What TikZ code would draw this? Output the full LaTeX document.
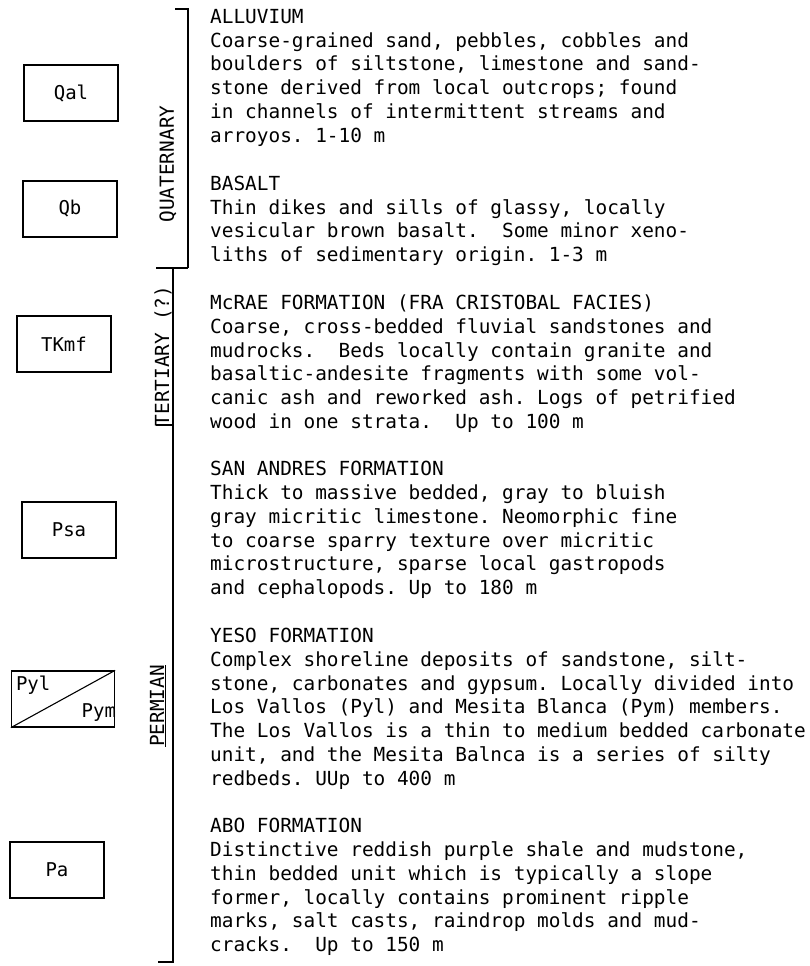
\documentclass[tikz,border=0pt]{standalone}
\usepackage{fontspec}
\usepackage{tikz}
\newfontfamily\typer{DejaVu Sans Mono}

\tikzset{
  unitbox/.style={draw, line width=1.3pt, minimum width=94pt, minimum height=56pt,
    inner sep=0pt, font=\typer\fontsize{19}{23}\selectfont},
  legtext/.style={anchor=north west, align=left, inner sep=0pt,
    font=\typer\fontsize{19.4}{23.8}\selectfont},
  agelabel/.style={rotate=90, inner sep=0pt, font=\typer\fontsize{19.4}{23.8}\selectfont},
  agebar/.style={line width=1.4pt},
}

\begin{document}
\frenchspacing
\begin{tikzpicture}[x=1pt,y=-1pt]
\useasboundingbox (0,0) rectangle (809,966);

%% map unit boxes %%%%%%%%%%%%%%%%%%%%%%%%%%%%%%%%%%%%
\node[unitbox] (qal)  at (71,93)  {Qal};
\node[unitbox] (qb)   at (70,209) {Qb};
\node[unitbox] (tkmf) at (64,344) {TKmf};
\node[unitbox] (psa)  at (69,530) {Psa};
\node[unitbox, minimum width=103pt] (pyl) at (63,699) {};
\draw[line width=1.1pt] (pyl.south west) -- (pyl.north east);
\node[anchor=north west, inner sep=0pt, font=\typer\fontsize{19}{23}\selectfont]
  (pyllab) at ([shift={(5,5)}]pyl.north west) {Pyl};
\node[anchor=south east, inner sep=0pt, font=\typer\fontsize{19}{23}\selectfont]
  (pymlab) at ([shift={(1,-6)}]pyl.south east) {Pym};
\node[unitbox] (pa)   at (57,870) {Pa};

%% the age bar %%%%%%%%%%%%%%%%%%%%%%%%%%%%%%%%%%%%%%%%
\coordinate (qhook) at (175,9);
\coordinate (qtop)  at (188,9);
\coordinate (qbot)  at (188,268);
\coordinate (tleft) at (156,268);
\coordinate (ttop)  at (173,268);
\coordinate (pleft) at (156,425);
\coordinate (pmid)  at (173,425);
\coordinate (pbot)  at (173,962);
\coordinate (pend)  at (158,962);
\draw[agebar] (qhook) -- (qtop) -- (qbot);
\draw[agebar] (tleft) -- (qbot);
\draw[agebar] (ttop) -- (pbot) -- (pend);
\draw[agebar] (pleft) -- (pmid);

\node[agelabel] (quat) at (168,164) {QUATERNARY};
\node[agelabel] (tert) at (163,356) {TERTIARY (?)};
\node[agelabel] (perm) at (158,706) {\underline{PERMIAN}};

%% the descriptions %%%%%%%%%%%%%%%%%%%%%%%%%%%%%%%%%%%%
\def\iTx{210}
\node[legtext] (alluvium) at (\iTx,9) {ALLUVIUM\\
Coarse-grained sand, pebbles, cobbles and\\
boulders of siltstone, limestone and sand-\\
stone derived from local outcrops; found\\
in channels of intermittent streams and\\
arroyos. 1-10 m};

\node[legtext] (basalt) at (\iTx,175.6) {BASALT\\
Thin dikes and sills of glassy, locally\\
vesicular brown basalt.~ Some minor xeno-\\
liths of sedimentary origin. 1-3 m};

\node[legtext] (mcrae) at (\iTx,294.6) {McRAE FORMATION (FRA CRISTOBAL FACIES)\\
Coarse, cross-bedded fluvial sandstones and\\
mudrocks.~ Beds locally contain granite and\\
basaltic-andesite fragments with some vol-\\
canic ash and reworked ash. Logs of petrified\\
wood in one strata.~ Up to 100 m};

\node[legtext] (sanandres) at (\iTx,461) {SAN ANDRES FORMATION\\
Thick to massive bedded, gray to bluish\\
gray micritic limestone. Neomorphic fine\\
to coarse sparry texture over micritic\\
microstructure, sparse local gastropods\\
and cephalopods. Up to 180 m};

\node[legtext] (yeso) at (\iTx,627.8) {YESO FORMATION\\
Complex shoreline deposits of sandstone, silt-\\
stone, carbonates and gypsum. Locally divided into\\
Los Vallos (Pyl) and Mesita Blanca (Pym) members.\\
The Los Vallos is a thin to medium bedded carbonate\\
unit, and the Mesita Balnca is a series of silty\\
redbeds. UUp to 400 m};

\node[legtext] (abo) at (\iTx,818) {ABO FORMATION\\
Distinctive reddish purple shale and mudstone,\\
thin bedded unit which is typically a slope\\
former, locally contains prominent ripple\\
marks, salt casts, raindrop molds and mud-\\
cracks.~ Up to 150 m};
\end{tikzpicture}
\end{document}
